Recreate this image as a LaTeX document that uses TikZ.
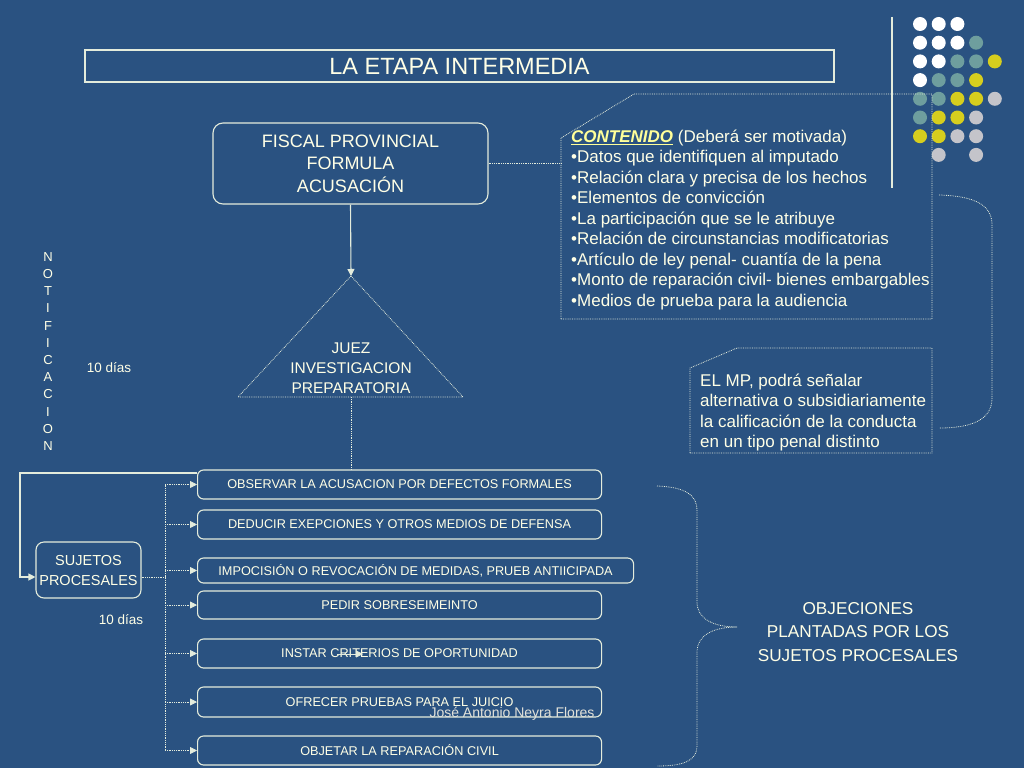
\documentclass[tikz,border=0pt]{standalone}
\usepackage{fontspec}
\setmainfont{Liberation Sans}
\usetikzlibrary{positioning,arrows.meta}
\definecolor{SlideBlue}{HTML}{2A5281}
\definecolor{SlideText}{HTML}{FFFFE6}
\definecolor{SlideLine}{HTML}{E4ECDC}
\definecolor{SlideGold}{HTML}{FFFF99}
\definecolor{SlideCredit}{HTML}{E2E2DA}
\definecolor{DotTeal}{HTML}{6E9E9E}
\definecolor{DotYellow}{HTML}{D6CE1E}
\definecolor{DotGrey}{HTML}{C4C4CA}

\begin{document}
\begin{tikzpicture}[x=1pt, y=-1pt, every node/.style={text=SlideText, inner sep=0pt},
    >={Triangle[width=7pt,length=7pt]},
    box/.style={draw=SlideLine, line width=1.1pt, rounded corners=6pt, align=center},
    wide/.style={box, anchor=west, minimum width=404pt, minimum height=29pt, font=\fontsize{12.7}{15}\selectfont},
    dotline/.style={draw=SlideLine, line width=0.8pt, densely dotted},
    dotarrow/.style={dotline, ->},
    solidarrow/.style={draw=SlideLine, line width=1.1pt, ->}]
    \fill[SlideBlue] (0,0) rectangle (1024,768);
    \useasboundingbox (0,0) rectangle (1024,768);

    \draw[SlideLine, line width=1.5pt] (892,17) -- (892,188);
    \foreach \c/\r in {1/1,2/1,3/1,1/2,2/2,3/2,1/3,2/3,1/4} \fill[white] (901.3+18.7*\c,5.3+18.7*\r) circle (7pt);
    \foreach \c/\r in {4/2,3/3,4/3,2/4,3/4,1/5,2/5,1/6} \fill[DotTeal] (901.3+18.7*\c,5.3+18.7*\r) circle (7pt);
    \foreach \c/\r in {5/3,4/4,3/5,4/5,2/6,3/6,1/7,2/7} \fill[DotYellow] (901.3+18.7*\c,5.3+18.7*\r) circle (7pt);
    \foreach \c/\r in {5/5,4/6,3/7,4/7,2/8,4/8} \fill[DotGrey] (901.3+18.7*\c,5.3+18.7*\r) circle (7pt);

    \node[draw=SlideLine, line width=1.1pt, minimum width=749pt, minimum height=32pt, font=\fontsize{23.5}{28}\selectfont] (title) at (459.5,66) {LA ETAPA INTERMEDIA};

    \node[box, rounded corners=10pt, minimum width=275pt, minimum height=81pt, font=\fontsize{18}{22.5}\selectfont] (fiscal) at (350.5,163.5) {FISCAL PROVINCIAL\\FORMULA\\ACUSACIÓN};

    \coordinate (apex) at (351,276);
    \coordinate (baseL) at (238,397);
    \coordinate (baseR) at (463,397);
    \coordinate (baseM) at (351,397);
    \draw[dotline] (apex) -- (baseR) -- (baseL) -- cycle;
    \node[align=center, font=\fontsize{15.5}{20}\selectfont] (juez) at (351,368) {JUEZ\\INVESTIGACION\\PREPARATORIA};

    \coordinate (cSW) at (561,319);
    \draw[dotline] (cSW) -- (561,138) -- (634,94) -- (932,94) -- (932,319) -- cycle;
    \node[anchor=west, align=left, font=\fontsize{17}{20.5}\selectfont] (contenido) at (571,220) {{\color{SlideGold}\underline{\textbf{\textit{CONTENIDO}}}} (Deberá ser motivada)\\
      •Datos que identifiquen al imputado\\
      •Relación clara y precisa de los hechos\\
      •Elementos de convicción\\
      •La participación que se le atribuye\\
      •Relación de circunstancias modificatorias\\
      •Artículo de ley penal- cuantía de la pena\\
      •Monto de reparación civil- bienes embargables\\
      •Medios de prueba para la audiencia};

    \draw[dotline] (690,453) -- (690,368) -- (737,348) -- (932,348) -- (932,453) -- cycle;
    \node[anchor=west, align=left, font=\fontsize{17}{20.5}\selectfont] (mp) at (700,412.5) {EL MP, podrá señalar\\alternativa o subsidiariamente\\la calificación de la conducta\\en un tipo penal distinto};

    \draw[dotline] (939,195) .. controls (975,196) and (992,205) .. (992,225) -- (992,398) .. controls (992,418) and (975,428) .. (939,428);

    \node[align=center, font=\fontsize{13}{17.2}\selectfont] (notificacion) at (48,351.5) {N\\O\\T\\I\\F\\I\\C\\A\\C\\I\\O\\N};
    \node[font=\fontsize{13.5}{16}\selectfont] (dias1) at (109,368) {10 días};

    \node[box, rounded corners=8pt, minimum width=105pt, minimum height=56pt, font=\fontsize{14.5}{20}\selectfont] (sujetos) at (88.5,570) {SUJETOS\\PROCESALES};
    \node[font=\fontsize{13.5}{16}\selectfont] (dias2) at (121,620) {10 días};

    \node[wide] (obs) at (197,484.5) {OBSERVAR LA ACUSACION POR DEFECTOS FORMALES};
    \node[wide] (ded) at (197,524.5) {DEDUCIR EXEPCIONES Y OTROS MEDIOS DE DEFENSA};
    \node[wide, minimum width=436pt, minimum height=25pt] (imp) at (197,570.5) {IMPOCISIÓN O REVOCACIÓN DE MEDIDAS, PRUEB ANTIICIPADA};
    \node[wide, minimum height=28pt] (ped) at (197,605) {PEDIR SOBRESEIMEINTO};
    \node[wide] (ins) at (197,653.5) {INSTAR CRITERIOS DE OPORTUNIDAD};
    \node[wide, minimum height=30pt] (ofr) at (197,702) {OFRECER PRUEBAS PARA EL JUICIO};
    \node[wide] (obj) at (197,750.5) {OBJETAR LA REPARACIÓN CIVIL};
    \node[text=SlideCredit, font=\fontsize{14}{16}\selectfont] (autor) at (512,714) {José Antonio Neyra Flores};

    \node[align=center, font=\fontsize{17.2}{23.5}\selectfont] (objeciones) at (858,632) {OBJECIONES\\PLANTADAS POR LOS\\SUJETOS PROCESALES};
    \draw[dotline] (657,486) .. controls (685,487) and (697,495) .. (697,510) -- (697,602) .. controls (697,618) and (712,627) .. (737,627) .. controls (712,627) and (697,636) .. (697,652) -- (697,746) .. controls (697,760) and (685,766) .. (657,766);

    \coordinate (bus) at (165,0);
    \coordinate (notif) at (20,473);
    \coordinate (strayA) at (337,654);
    \coordinate (strayB) at (363,654);

    \draw[solidarrow] (fiscal.south) -- (apex);
    \draw[dotline] (fiscal.east) -- (fiscal.east -| cSW);
    \draw[dotline] (baseM) -- (baseM |- obs.north);
    \draw[solidarrow] (obs.west |- notif) -- (notif) |- ([yshift=-7pt]sujetos.west);
    \draw[dotline] ([yshift=-7pt]sujetos.east) -- ([yshift=-7pt]sujetos.east -| bus);
    \draw[dotline] (obs.west -| bus) -- (obj.west -| bus);
    \foreach \b in {obs,ded,imp,ped,ins,ofr,obj}
      \draw[dotarrow] (\b.west -| bus) -- (\b.west);
    \draw[solidarrow, line width=0.8pt] (strayA) -- (strayB);
  \end{tikzpicture}
\end{document}
